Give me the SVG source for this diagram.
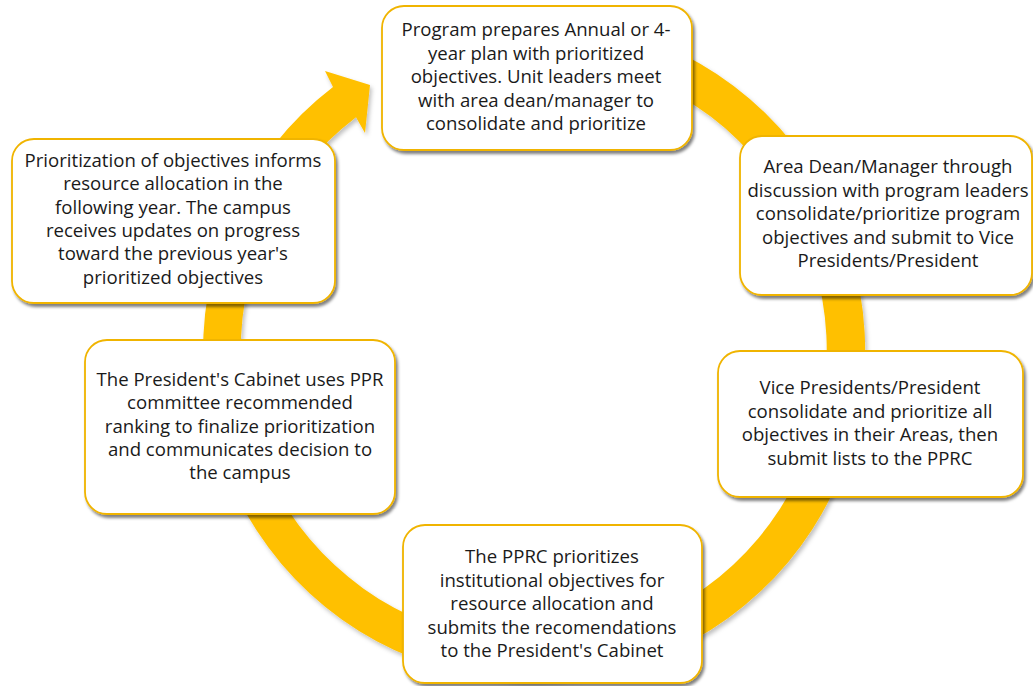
<svg xmlns="http://www.w3.org/2000/svg" width="1033" height="686" viewBox="0 0 1033 686">
<defs>
<filter id="sh" x="-10%" y="-10%" width="125%" height="130%">
<feDropShadow dx="2" dy="3" stdDeviation="1.8" flood-color="#000" flood-opacity="0.5"/>
</filter>
<filter id="rsh" x="-10%" y="-10%" width="125%" height="125%">
<feDropShadow dx="2" dy="3" stdDeviation="2" flood-color="#000" flood-opacity="0.25"/>
</filter>
</defs>
<style>
.box{fill:#fff;stroke:#F0B400;stroke-width:1.8;filter:url(#sh)}
.t{font-family:"Open Sans","Liberation Sans",sans-serif;font-size:18.6px;fill:#1a1a1a;text-anchor:middle}
.ring{fill:#FFC000;filter:url(#rsh)}
</style>
<rect width="1033" height="686" fill="#fff"/>
<g id="connectors">
<path class="ring" d="M420.8,39 A331,331 0 1 1 333,87.1 L325,71 L370,85 L365,133 L356,117.2 A293,293 0 1 0 433.8,74.7 Z"/>
</g>
<g id="n1">
<rect class="box" x="382" y="6" width="310" height="144" rx="22"/>
<text class="t" x="536" y="36">Program prepares Annual or 4-</text>
<text class="t" x="536" y="59.5">year plan with prioritized</text>
<text class="t" x="536" y="83">objectives. Unit leaders meet</text>
<text class="t" x="536" y="106.5">with area dean/manager to</text>
<text class="t" x="536" y="130">consolidate and prioritize</text>
</g>
<g id="n2">
<rect class="box" x="740" y="136" width="292" height="159" rx="22"/>
<text class="t" x="888" y="173">Area Dean/Manager through</text>
<text class="t" x="888" y="196.5">discussion with program leaders</text>
<text class="t" x="888" y="220">consolidate/prioritize program</text>
<text class="t" x="888" y="243.5">objectives and submit to Vice</text>
<text class="t" x="888" y="267">Presidents/President</text>
</g>
<g id="n3">
<rect class="box" x="718" y="351" width="305" height="146" rx="22"/>
<text class="t" x="870" y="394">Vice Presidents/President</text>
<text class="t" x="870" y="417.5">consolidate and prioritize all</text>
<text class="t" x="870" y="441">objectives in their Areas, then</text>
<text class="t" x="870" y="464.5">submit lists to the PPRC</text>
</g>
<g id="n4">
<rect class="box" x="403" y="525" width="299" height="158" rx="22"/>
<text class="t" x="552" y="563">The PPRC prioritizes</text>
<text class="t" x="552" y="586.5">institutional objectives for</text>
<text class="t" x="552" y="610">resource allocation and</text>
<text class="t" x="552" y="633.5">submits the recomendations</text>
<text class="t" x="552" y="657">to the President's Cabinet</text>
</g>
<g id="n5">
<rect class="box" x="85" y="340" width="310" height="174" rx="22"/>
<text class="t" x="240" y="386">The President's Cabinet uses PPR</text>
<text class="t" x="240" y="409.3">committee recommended</text>
<text class="t" x="240" y="432.6">ranking to finalize prioritization</text>
<text class="t" x="240" y="455.9">and communicates decision to</text>
<text class="t" x="240" y="479.2">the campus</text>
</g>
<g id="n6">
<rect class="box" x="12" y="139" width="323" height="164" rx="22"/>
<text class="t" x="173" y="167">Prioritization of objectives informs</text>
<text class="t" x="173" y="190.3">resource allocation in the</text>
<text class="t" x="173" y="213.6">following year. The campus</text>
<text class="t" x="173" y="236.9">receives updates on progress</text>
<text class="t" x="173" y="260.2">toward the previous year's</text>
<text class="t" x="173" y="283.5">prioritized objectives</text>
</g>
</svg>
